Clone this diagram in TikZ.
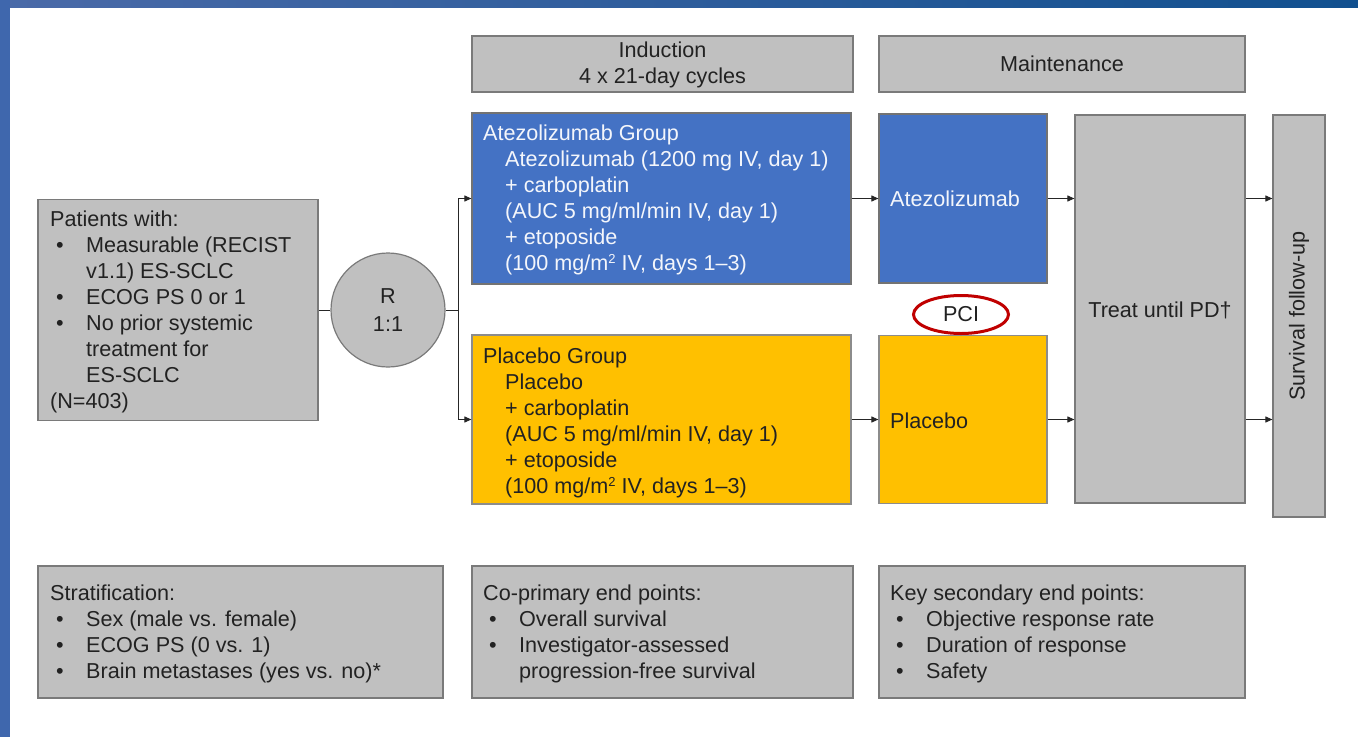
\documentclass[tikz,border=0pt]{standalone}
\usepackage{fontspec}
\setmainfont{Liberation Sans}
\usetikzlibrary{shapes.geometric,arrows.meta}
\definecolor{gbox}{HTML}{C0C0C0}
\definecolor{gline}{HTML}{7A7A7A}
\definecolor{bbox}{HTML}{4472C4}
\definecolor{ybox}{HTML}{FFC000}
\definecolor{txt}{HTML}{222222}
\definecolor{wtxt}{HTML}{F4F6FB}
\definecolor{pcired}{HTML}{C00000}
\definecolor{barL}{HTML}{4A6AA8}
\definecolor{barR}{HTML}{11508F}
\definecolor{barV}{HTML}{3F67AD}
\newcommand\bul{\hspace*{6pt}\makebox[30pt][l]{•}}
\newcommand\cnt{\hspace*{36pt}}
\newcommand\fst{\rule{0pt}{16pt}}
\newcommand\sqr{\raisebox{7pt}{\fontsize{13}{13}\selectfont 2}}
\begin{document}
\begin{tikzpicture}[x=1pt,y=-1pt,
  bx/.style={rectangle, draw=gline, line width=1.2pt, inner sep=0pt},
  graybox/.style={bx, fill=gbox},
  bluebox/.style={bx, fill=bbox, draw=black!55},
  goldbox/.style={bx, fill=ybox, draw=black!45},
  tblock/.style={anchor=north west, inner sep=0pt, align=left, font=\fontsize{21.6}{25.9}\selectfont, text=txt},
  ctext/.style={inner sep=0pt, align=center, font=\fontsize{21.6}{25.9}\selectfont, text=txt},
  ln/.style={line width=1pt, draw=black!85},
  arr/.style={ln, -{Triangle[length=7pt,width=6pt]}}]
\useasboundingbox (0,0) rectangle (1358,737);
\fill[white] (0,0) rectangle (1358,737);
% frame bars
\shade[left color=barL, right color=barR] (0,0) rectangle (1358,7);
\fill[barV] (0,0) rectangle (10,737);
% header boxes
\node[graybox, minimum width=381pt, minimum height=56pt] (ind) at (662.5,64) {};
\node[graybox, minimum width=366pt, minimum height=56pt] (mnt) at (1062,64) {};
\node[ctext] (indt) at (662.5,65) {Induction\\4 x 21-day cycles};
\node[ctext] (mntt) at (1062,64) {Maintenance};
% arms
\node[bluebox, minimum width=379pt, minimum height=171pt] (atg) at (661.5,198.5) {};
\node[bluebox, minimum width=168pt, minimum height=169pt] (am) at (963,198.5) {};
\node[goldbox, minimum width=379pt, minimum height=169pt] (plg) at (661.5,419.5) {};
\node[goldbox, minimum width=168pt, minimum height=168pt] (pm) at (963,419.5) {};
\node[graybox, minimum width=170pt, minimum height=388pt] (treat) at (1160,309) {};
\node[graybox, minimum width=52pt, minimum height=402pt] (surv) at (1299,316) {};
\node[tblock, text=wtxt] (atgt) at (483,124.7) {\fst Atezolizumab Group\\
\hspace*{22pt}Atezolizumab (1200 mg IV, day 1)\\
\hspace*{22pt}+ carboplatin\\
\hspace*{22pt}(AUC 5 mg/ml/min IV, day 1)\\
\hspace*{22pt}+ etoposide\\
\hspace*{22pt}(100 mg/m\sqr{} IV, days 1–3)};
\node[tblock] (plgt) at (483,347.7) {\fst Placebo Group\\
\hspace*{22pt}Placebo\\
\hspace*{22pt}+ carboplatin\\
\hspace*{22pt}(AUC 5 mg/ml/min IV, day 1)\\
\hspace*{22pt}+ etoposide\\
\hspace*{22pt}(100 mg/m\sqr{} IV, days 1–3)};
\node[tblock, text=wtxt] (amt) at (890,190.7) {\fst Atezolizumab};
\node[tblock] (pmt) at (890,412.7) {\fst Placebo};
\node[ctext] (treatt) at (1160,310) {Treat until PD†};
\node[ctext, rotate=90] (survt) at (1299,316) {Survival follow-up};
% PCI
\node[ellipse, draw=pcired, line width=3pt, minimum width=95pt, minimum height=38pt, inner sep=0pt, font=\fontsize{21.6}{25.9}\selectfont, text=txt] (pci) at (961,314.5) {PCI};
% patients and randomisation
\node[graybox, minimum width=280pt, minimum height=221pt] (pat) at (178,310) {};
\node[tblock] (patt) at (50,210.7) {\fst Patients with:\\
\bul Measurable (RECIST\\
\cnt v1.1) ES-SCLC\\
\bul ECOG PS 0 or 1\\
\bul No prior systemic\\
\cnt treatment for\\
\cnt ES-SCLC\\
(N=403)};
\node[circle, draw=gline, line width=1.2pt, fill=gbox, minimum size=114pt, inner sep=0pt, align=center, font=\fontsize{21.6}{28}\selectfont, text=txt] (rc) at (388,310) {R\\1:1};
\coordinate (split) at (458,310);
% connectors
\draw[ln] (pat.east) -- (rc.west);
\draw[ln] (rc.east) -- (split);
\draw[arr] (split) |- (atg.west);
\draw[arr] (split) |- (plg.west);
\draw[arr] (atg.east) -- (am.west);
\draw[arr] (plg.east) -- (pm.west);
\draw[arr] (am.east) -- (am.east -| treat.west);
\draw[arr] (pm.east) -- (pm.east -| treat.west);
\draw[arr] (am.east -| treat.east) -- (am.east -| surv.west);
\draw[arr] (pm.east -| treat.east) -- (pm.east -| surv.west);
% bottom boxes
\node[graybox, minimum width=405pt, minimum height=132pt] (strat) at (240.5,632) {};
\node[graybox, minimum width=381pt, minimum height=132pt] (cop) at (662.5,632) {};
\node[graybox, minimum width=366pt, minimum height=132pt] (sec) at (1062,632) {};
\node[tblock] (stratt) at (50,584.7) {\fst Stratification:\\
\bul Sex (male vs. female)\\
\bul ECOG PS (0 vs. 1)\\
\bul Brain metastases (yes vs. no)*};
\node[tblock] (copt) at (483,584.7) {\fst Co-primary end points:\\
\bul Overall survival\\
\bul Investigator-assessed\\
\cnt progression-free survival};
\node[tblock] (sect) at (890,584.7) {\fst Key secondary end points:\\
\bul Objective response rate\\
\bul Duration of response\\
\bul Safety};
\end{tikzpicture}
\end{document}
